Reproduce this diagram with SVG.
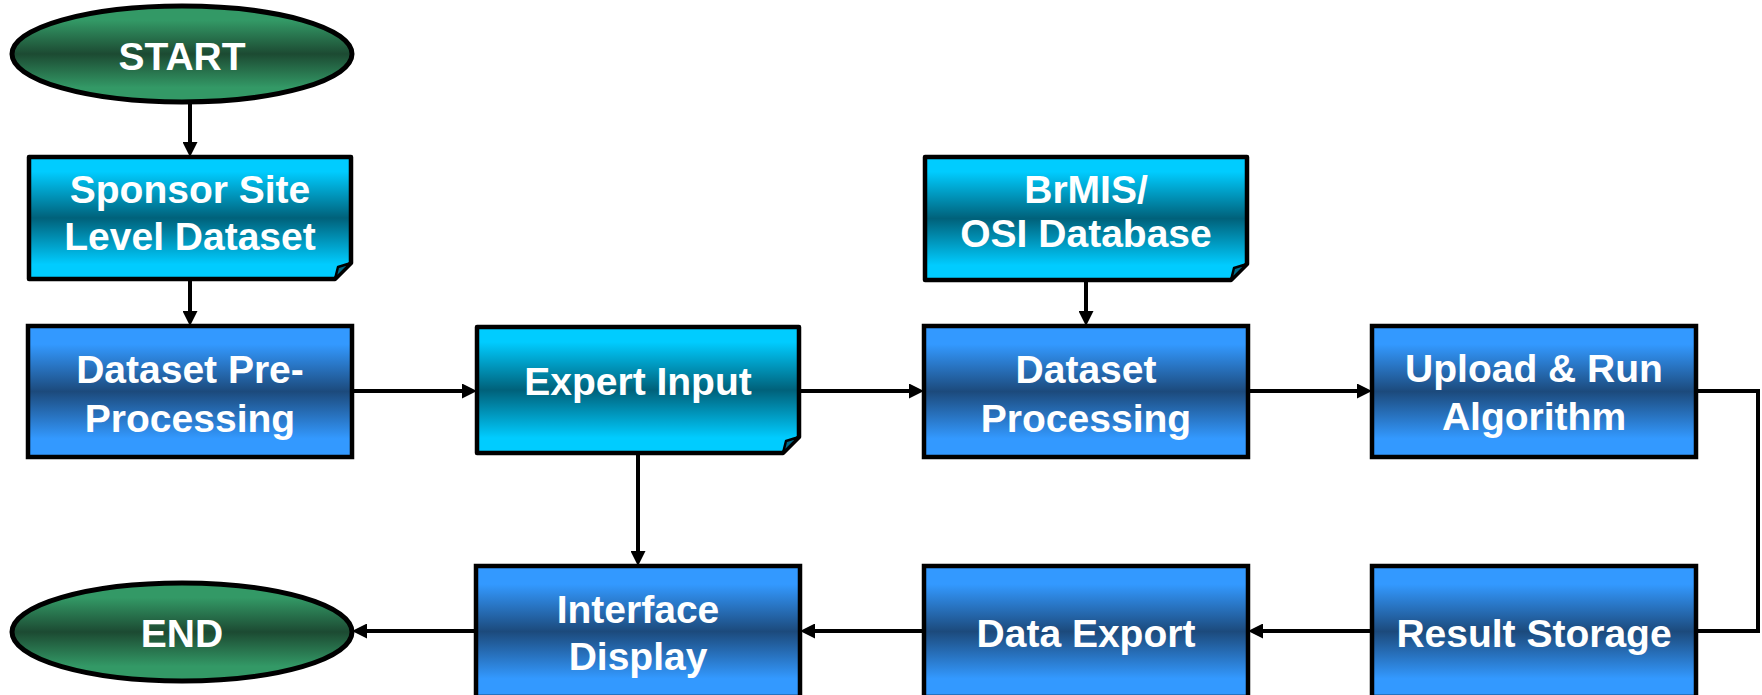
<svg xmlns="http://www.w3.org/2000/svg" width="1762" height="695" viewBox="0 0 1762 695">
<defs>
<linearGradient id="gBlue" x1="0" y1="0" x2="0" y2="1">
<stop offset="0" stop-color="#3399FF"/>
<stop offset="0.14" stop-color="#3399FF"/>
<stop offset="0.5" stop-color="#1C4A7C"/>
<stop offset="0.86" stop-color="#3399FF"/>
<stop offset="1" stop-color="#3399FF"/>
</linearGradient>
<linearGradient id="gCyan" x1="0" y1="0" x2="0" y2="1">
<stop offset="0" stop-color="#00CCFF"/>
<stop offset="0.12" stop-color="#00CCFF"/>
<stop offset="0.5" stop-color="#00617A"/>
<stop offset="0.88" stop-color="#00CCFF"/>
<stop offset="1" stop-color="#00CCFF"/>
</linearGradient>
<linearGradient id="gGreen" x1="0" y1="0" x2="0" y2="1">
<stop offset="0" stop-color="#339966"/>
<stop offset="0.15" stop-color="#339966"/>
<stop offset="0.5" stop-color="#1C4A32"/>
<stop offset="0.85" stop-color="#339966"/>
<stop offset="1" stop-color="#339966"/>
</linearGradient>
<marker id="arr" viewBox="0 0 15 15" refX="5" refY="7.5" markerWidth="15" markerHeight="15" markerUnits="userSpaceOnUse" orient="auto">
<path d="M0,0 L15,7.5 L0,15 Z" fill="#000"/>
</marker>
</defs>
<style>
.box{fill:url(#gBlue);stroke:#000;stroke-width:4.5}
.doc{fill:url(#gCyan);stroke:#000;stroke-width:4.5;stroke-linejoin:round}
.fold{fill:#006B88;stroke:#000;stroke-width:2.5;stroke-linejoin:round}
.term{fill:url(#gGreen);stroke:#000;stroke-width:5}
.t{font-family:"Liberation Sans",Arial,sans-serif;font-weight:bold;font-size:39px;fill:#fff;text-anchor:middle}
.con{fill:none;stroke:#000;stroke-width:4}
</style>
<rect width="1762" height="695" fill="#fff"/>
<g id="connectors">
<path class="con" d="M190,102 V147" marker-end="url(#arr)"/>
<path class="con" d="M190,280 V316" marker-end="url(#arr)"/>
<path class="con" d="M352,391 H467" marker-end="url(#arr)"/>
<path class="con" d="M799,391 H914" marker-end="url(#arr)"/>
<path class="con" d="M1086,280 V316" marker-end="url(#arr)"/>
<path class="con" d="M1248,391 H1362" marker-end="url(#arr)"/>
<path class="con" d="M1696,391 H1758 V631 H1696"/>
<path class="con" d="M1372,631 H1258" marker-end="url(#arr)"/>
<path class="con" d="M924,631 H810" marker-end="url(#arr)"/>
<path class="con" d="M638,453 V556" marker-end="url(#arr)"/>
<path class="con" d="M476,631 H362" marker-end="url(#arr)"/>
</g>
<g id="start">
<ellipse class="term" cx="182" cy="54" rx="170" ry="48"/>
<text class="t" x="182" y="70" font-size="38">START</text>
</g>
<g id="sponsor">
<path class="doc" d="M29,157 H351 V263 L335,279 H29 Z"/>
<path class="fold" d="M335,279 L338,267 L351,263 Z"/>
<text class="t" x="190" y="203">Sponsor Site</text>
<text class="t" x="190" y="250">Level Dataset</text>
</g>
<g id="preprocessing">
<rect class="box" x="28" y="326" width="324" height="131"/>
<text class="t" x="190" y="383">Dataset Pre-</text>
<text class="t" x="190" y="432">Processing</text>
</g>
<g id="expert">
<path class="doc" d="M477,327 H799 V437 L783,453 H477 Z"/>
<path class="fold" d="M783,453 L786,441 L799,437 Z"/>
<text class="t" x="638" y="395" font-size="36">Expert Input</text>
</g>
<g id="brmis">
<path class="doc" d="M925,157 H1247 V264 L1231,280 H925 Z"/>
<path class="fold" d="M1231,280 L1234,268 L1247,264 Z"/>
<text class="t" x="1086" y="203">BrMIS/</text>
<text class="t" x="1086" y="247">OSI Database</text>
</g>
<g id="datasetprocessing">
<rect class="box" x="924" y="326" width="324" height="131"/>
<text class="t" x="1086" y="383">Dataset</text>
<text class="t" x="1086" y="432">Processing</text>
</g>
<g id="upload">
<rect class="box" x="1372" y="326" width="324" height="131"/>
<text class="t" x="1534" y="382">Upload &amp; Run</text>
<text class="t" x="1534" y="430">Algorithm</text>
</g>
<g id="result">
<rect class="box" x="1372" y="566" width="324" height="131"/>
<text class="t" x="1534" y="647">Result Storage</text>
</g>
<g id="export">
<rect class="box" x="924" y="566" width="324" height="131"/>
<text class="t" x="1086" y="647">Data Export</text>
</g>
<g id="interface">
<rect class="box" x="476" y="566" width="324" height="131"/>
<text class="t" x="638" y="623">Interface</text>
<text class="t" x="638" y="670">Display</text>
</g>
<g id="end">
<ellipse class="term" cx="182" cy="632" rx="170" ry="49"/>
<text class="t" x="182" y="647" font-size="38">END</text>
</g>
</svg>
